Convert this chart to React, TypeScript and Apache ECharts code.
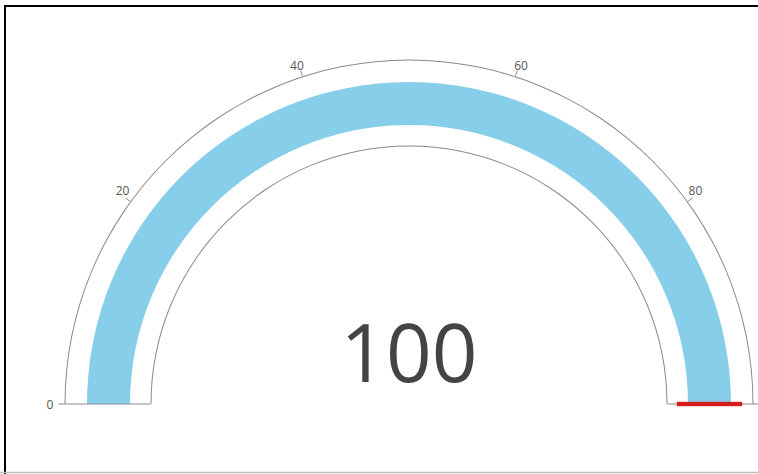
import React, { useEffect, useRef } from "react";
import * as echarts from "echarts";

// ---- data ----
const scaleMin = 0;
const scaleMax = 100;
const scaleSteps = 5; // labels 0,20,40,60,80,(100)
const gaugeValue = [100];
const bandRange = [0, 100];
const hiddenLabels = [100];

const FONT = "'Open Sans', 'Noto Sans', sans-serif";

export default function App() {
  const ref = useRef<HTMLDivElement>(null);

  useEffect(() => {
    if (!ref.current) return;
    const chart = echarts.init(ref.current, undefined, { renderer: "svg" });
    const center = [409, 404];
    const common = {
      type: "gauge",
      center,
      startAngle: 180,
      endAngle: 0,
      min: scaleMin,
      max: scaleMax,
      pointer: { show: false },
      anchor: { show: false },
      title: { show: false },
      detail: { show: false },
      axisTick: { show: false },
      splitLine: { show: false },
      axisLabel: { show: false },
      progress: { show: false },
      data: [] as any[],
    };
    const bandFrac = (bandRange[1] - bandRange[0]) / (scaleMax - scaleMin);
    chart.setOption({
      animation: false,
      graphic: [
        {
          type: "line",
          shape: { x1: 4, y1: 6, x2: 758, y2: 6 },
          style: { stroke: "#000", lineWidth: 2 },
        },
        {
          type: "line",
          shape: { x1: 5, y1: 5, x2: 5, y2: 474 },
          style: { stroke: "#000", lineWidth: 2 },
        },
        {
          type: "line",
          shape: { x1: 0, y1: 472.5, x2: 758, y2: 472.5 },
          style: { stroke: "#bdbdbd", lineWidth: 1.5 },
        },
      ],
      series: [
        {
          ...common,
          radius: 322,
          axisLine: {
            show: true,
            lineStyle: { width: 43, color: [[bandFrac, "#87ceeb"], [1, "rgba(0,0,0,0)"]] },
          },
        },
        {
          ...common,
          radius: 344.5,
          splitNumber: scaleSteps,
          axisLine: { show: true, lineStyle: { width: 1, color: [[1, "#8a8a8a"]] } },
          splitLine: {
            show: true,
            length: 6,
            distance: -7,
            lineStyle: { width: 1, color: "#8a8a8a" },
          },
          axisLabel: {
            show: true,
            distance: -17,
            color: "#555",
            fontSize: 12,
            fontFamily: FONT,
            formatter: (v: number) => (hiddenLabels.includes(v) ? "" : String(v)),
          },
        },
        {
          ...common,
          radius: 258.5,
          splitNumber: 1,
          axisLine: { show: true, lineStyle: { width: 1, color: [[1, "#8a8a8a"]] } },
          splitLine: {
            show: true,
            length: 86,
            distance: -87,
            lineStyle: { width: 1, color: "#8a8a8a" },
          },
        },
        {
          ...common,
          radius: 344,
          axisLine: { show: false },
          pointer: {
            show: true,
            icon: "rect",
            width: 4,
            length: 65,
            offsetCenter: [0, -268],
            itemStyle: {
              color: "#d41c1c",
              shadowBlur: 2,
              shadowColor: "rgba(220,0,0,0.5)",
            },
          },
          detail: {
            show: true,
            offsetCenter: [0, -54],
            fontSize: 80,
            fontWeight: "normal",
            fontFamily: FONT,
            color: "#444",
            formatter: "{value}",
          },
          data: gaugeValue.map((v) => ({ value: v })),
        },
      ],
    });
    return () => chart.dispose();
  }, []);

  return (
    <div
      ref={ref}
      style={{ position: "fixed", left: 0, top: 0, width: 758, height: 474, background: "#fff" }}
    />
  );
}
